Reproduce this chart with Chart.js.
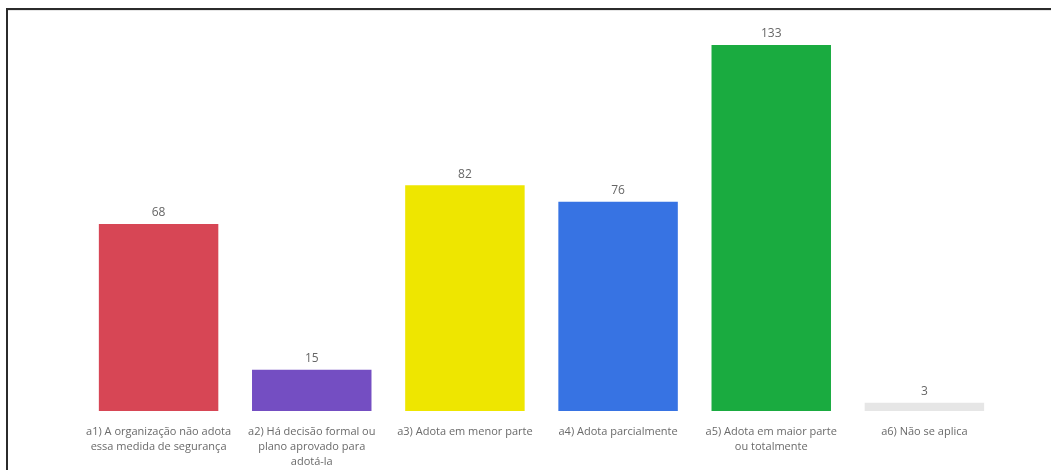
<!DOCTYPE html>
<html>
<head>
<meta charset="utf-8">
<script src="https://cdn.jsdelivr.net/npm/chart.js@4/dist/chart.umd.min.js"></script>
<style>
  html, body { margin: 0; padding: 0; background: #fff; }
  #wrap { position: relative; width: 1051px; height: 470px; overflow: hidden; }
  #frame {
    position: absolute; left: 6px; top: 8px; right: -10px; bottom: -10px;
    border-top: 2px solid #2b2b2b; border-left: 2px solid #2b2b2b;
    box-shadow: inset 0 1px 0 #e6e6e6;
    pointer-events: none;
  }
  canvas { position: absolute; left: 0; top: 0; }
</style>
</head>
<body>
<div id="wrap">
  <canvas id="barChart" width="1051" height="470"></canvas>
  <div id="frame"></div>
</div>
<script>
// Categories (wrapped as in the original)
const categories = [
  ['a1) A organização não adota', 'essa medida de segurança'],
  ['a2) Há decisão formal ou', 'plano aprovado para', 'adotá-la'],
  ['a3) Adota em menor parte'],
  ['a4) Adota parcialmente'],
  ['a5) Adota em maior parte', 'ou totalmente'],
  ['a6) Não se aplica']
];
const counts = [68, 15, 82, 76, 133, 3];
const barColors = ['#D74655', '#744EC2', '#EEE600', '#3773E3', '#1AAB40', '#E6E6E6'];

// value labels above each bar
const valueLabels = {
  id: 'valueLabels',
  afterDatasetsDraw(chart) {
    const ctx = chart.ctx;
    const meta = chart.getDatasetMeta(0);
    ctx.save();
    ctx.font = '12px "Open Sans", sans-serif';
    ctx.fillStyle = '#666666';
    ctx.textAlign = 'center';
    ctx.textBaseline = 'middle';
    meta.data.forEach((bar, i) => {
      ctx.fillText(String(counts[i]), bar.x, bar.y - 11);
    });
    ctx.restore();
  }
};

const ctx = document.getElementById('barChart').getContext('2d');
const barChart = new Chart(ctx, {
  type: 'bar',
  data: {
    labels: categories,
    datasets: [{
      data: counts,
      backgroundColor: barColors,
      barPercentage: 0.78,
      categoryPercentage: 1
    }]
  },
  options: {
    responsive: false,
    animation: false,
    layout: { padding: { left: 82, right: 50, top: 12, bottom: 0 } },
    plugins: {
      legend: { display: false },
      tooltip: { enabled: false }
    },
    scales: {
      x: {
        grid: { display: false },
        border: { display: false },
        ticks: {
          color: '#6a6a6a',
          font: { family: '"Open Sans", sans-serif', size: 11, lineHeight: '15px' },
          maxRotation: 0,
          autoSkip: false,
          padding: 5
        },
        afterFit(scale) { scale.height = 59; }
      },
      y: {
        display: false,
        min: 0,
        max: 145
      }
    }
  },
  plugins: [valueLabels]
});
</script>
</body>
</html>
